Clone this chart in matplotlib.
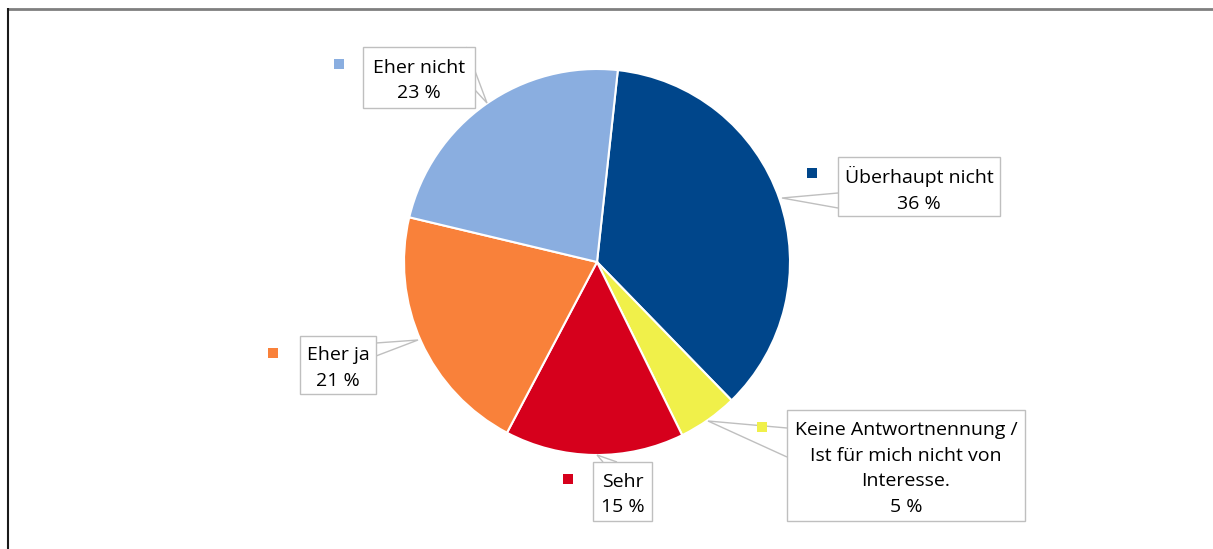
import matplotlib
matplotlib.use("Agg")
import matplotlib.pyplot as plt
from matplotlib.patches import Rectangle, Polygon

categories = ["Überhaupt nicht", "Keine Antwortnennung /\nIst für mich nicht von\nInteresse.", "Sehr", "Eher ja", "Eher nicht"]
values = [36, 5, 15, 21, 23]
colors = ["#00468B", "#F0F04A", "#D6001C", "#F9813A", "#8AAEE0"]

W, H = 1213, 549
fig = plt.figure(figsize=(W / 100, H / 100), dpi=100)
ax = fig.add_axes([0, 0, 1, 1])
ax.set_xlim(0, W)
ax.set_ylim(0, H)
ax.set_aspect("equal")
ax.axis("off")

def py(y):
    return H - y

# frame lines (top gray, left dark)
ax.plot([7, W], [py(8.5), py(8.5)], color="#7f7f7f", lw=2, solid_capstyle="butt")
ax.plot([7.5, 7.5], [py(8), 0], color="#1a1a1a", lw=1.5, solid_capstyle="butt")

cx, cy, r = 597, py(262), 193
ax.pie(values, colors=colors, startangle=83.8, counterclock=False,
       center=(cx, cy), radius=r, frame=True,
       wedgeprops=dict(edgecolor="white", linewidth=1.5))
ax.set_xlim(0, W)
ax.set_ylim(0, H)
ax.axis("off")

# label layout: box (x0, y0, x1, y1) in pixels, marker pos, pointer tip, pointer base points
layout = [
    dict(box=(838, 157, 1000, 216), mk=(812, 173), tip=(782, 198), base=[(838, 193), (838, 208)]),
    dict(box=(787, 410, 1025, 521), mk=(762, 427), tip=(708, 421), base=[(787, 428), (787, 457)]),
    dict(box=(593, 462, 652, 521), mk=(568, 479), tip=(597, 455), base=[(603, 462), (617, 462)]),
    dict(box=(300, 336, 376, 394), mk=(273, 353), tip=(418, 340), base=[(376, 343), (376, 356)]),
    dict(box=(363, 47, 475, 108), mk=(339, 64), tip=(487, 103), base=[(466, 47), (475, 90)]),
]

for cat, val, col, lay in zip(categories, values, colors, layout):
    x0, y0, x1, y1 = lay["box"]
    tx, ty = lay["tip"]
    (b1x, b1y), (b2x, b2y) = lay["base"]
    ax.add_patch(Polygon([(b1x, py(b1y)), (tx, py(ty)), (b2x, py(b2y))], closed=False,
                         facecolor="white", edgecolor="#bfbfbf", lw=1, zorder=4))
    ax.add_patch(Rectangle((x0, py(y1)), x1 - x0, y1 - y0, facecolor="white",
                           edgecolor="#bfbfbf", lw=1, zorder=5))
    ax.text((x0 + x1) / 2, py((y0 + y1) / 2) - 3, f"{cat}\n{val} %", ha="center", va="center",
            fontsize=14, family=["Open Sans", "DejaVu Sans"], color="#000000",
            linespacing=1.55, zorder=6)
    mx, my = lay["mk"]
    ax.add_patch(Rectangle((mx - 5, py(my) - 5), 10, 10, facecolor=col, edgecolor="none", zorder=6))

fig.savefig("out.png", dpi=100)
